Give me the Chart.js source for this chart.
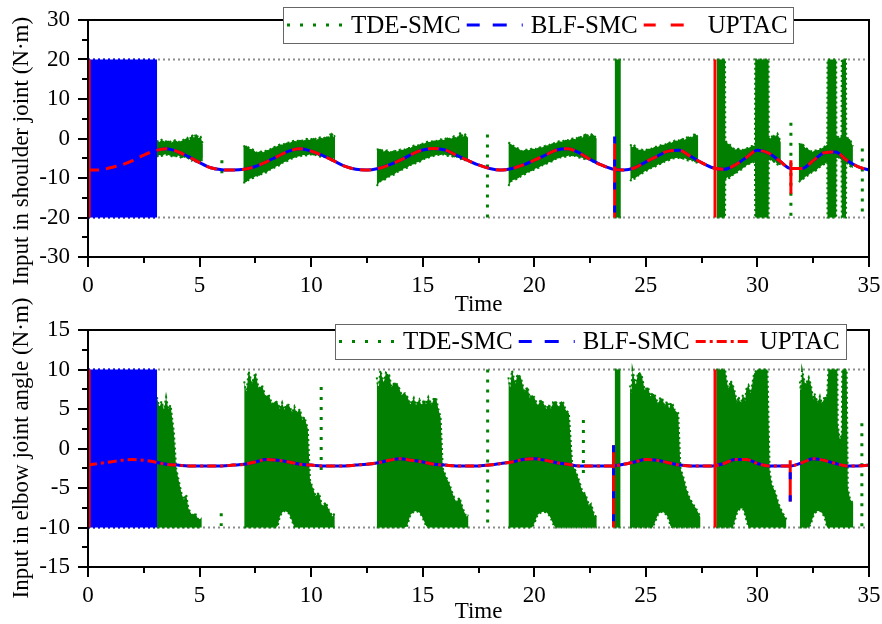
<!DOCTYPE html>
<html>
<head>
<meta charset="utf-8">
<script src="https://cdn.jsdelivr.net/npm/chart.js@4.4.0/dist/chart.umd.min.js"></script>
<style>
  html, body { margin: 0; padding: 0; background: #fff; }
  #wrap { position: relative; width: 882px; height: 624px; overflow: hidden; }
  canvas { position: absolute; left: 0; }
  #top { top: 0; }
  #bottom { top: 290px; }
</style>
</head>
<body>
<div id="wrap">
  <canvas id="top" width="882" height="320"></canvas>
  <canvas id="bottom" width="882" height="334"></canvas>
</div>
<script>
// datos

const seriesNames = ['TDE-SMC', 'BLF-SMC', 'UPTAC']

const curveTime = [
  0, 0.5, 1, 1.5, 2, 2.5, 3, 3.5, 4, 4.5,
  5, 5.5, 6, 6.5, 7, 7.5, 8, 8.5, 9, 9.5,
  10, 10.5, 11, 11.5, 12, 12.5, 13, 13.5, 14, 14.5,
  15, 15.5, 16, 16.5, 17, 17.5, 18, 18.5, 19, 19.5,
  20, 20.5, 21, 21.5, 22, 22.5, 23, 23.5, 24, 24.5,
  25, 25.5, 26, 26.5, 27, 27.5, 28, 28.5, 29, 29.5,
  30, 30.5, 31, 31.5, 32, 32.5, 33, 33.5, 34, 34.5,
  35
]

// hombro (panel de arriba)
const shoulderUptac = [
  -8.0, -8.0, -7.4, -6.7, -5.6, -4.2, -3.1, -2.6, -3.3, -4.6,
  -6.1, -7.4, -7.9, -8.0, -7.8, -7.1, -5.9, -4.5, -3.2, -2.6,
  -3.2, -4.3, -5.6, -7.0, -7.8, -8.0, -7.6, -6.7, -5.5, -4.0,
  -2.9, -2.5, -2.9, -4.2, -5.5, -6.7, -7.6, -8.0, -7.6, -6.7,
  -5.5, -4.2, -2.9, -2.6, -3.6, -5.3, -6.7, -7.7, -8.0, -7.4,
  -5.9, -4.5, -3.2, -3.0, -4.5, -6.1, -7.4, -7.8, -6.7, -4.8,
  -3.0, -3.7, -5.7, -7.6, -7.6, -5.6, -3.6, -3.4, -5.5, -7.1,
  -8.0
]
// BLF-SMC va pegada a UPTAC (misma curva en la figura)
const shoulderBlf = shoulderUptac

// picos verticales: [tiempo, desde, hasta]
const shoulderUptacSpikes = [[0.05, 20, -20], [23.6, -1.2, -20], [28.1, 20, -20], [31.5, -5.5, -14]]
const shoulderBlfSpikes = [[23.6, 0.5, -20]]
const shoulderTdeSpikes = [[6.0, -5.5, -9.6], [17.9, 1, -20], [31.5, 4, -20], [34.7, -2.5, -19.5]]
// castaneo de BLF-SMC al inicio: [tiempo, bajo, alto]
const shoulderBlfBlock = [[0, -20, 20], [3.1, -20, 20]]
const shoulderLimits = [20, -20]

// bandas de ruido de TDE-SMC: [tiempo, bajo, alto]
const shoulderTdeBands = [
  [[3.08, -4.6, -0.6], [3.2, -4.2, -0.9], [3.3, -4.4, -0.3], [3.45, -4.0, -0.8], [3.6, -4.2, -0.5], [3.75, -4.5, -1.0], [3.9, -4.6, -0.4], [4.05, -4.3, -0.9], [4.2, -5.0, -0.6], [4.35, -4.6, -0.1], [4.45, -5.2, 0.2], [4.55, -4.9, -0.4], [4.65, -5.6, 1.0], [4.75, -5.2, 0.2], [4.85, -6.2, 1.2], [4.95, -5.6, 0.1], [5.05, -6.0, 0.4], [5.15, -5.0, -1.5]],
  [[6.96, -11.2, -2.0], [7.1, -11.0, -1.8], [7.25, -10.2, -2.6], [7.4, -10.0, -2.8], [7.55, -9.4, -3.6], [7.7, -9.4, -3.2], [7.85, -8.6, -3.5], [8.0, -8.6, -3.0], [8.15, -7.9, -2.8], [8.3, -7.6, -2.2], [8.45, -7.0, -2.0], [8.6, -6.8, -1.5], [8.75, -6.0, -1.5], [8.9, -5.8, -1.0], [9.05, -5.2, -1.1], [9.2, -5.0, -0.6], [9.35, -4.6, -0.7], [9.5, -4.5, -0.3], [9.65, -4.2, -0.6], [9.8, -4.3, -0.1], [9.95, -4.0, -0.4], [10.1, -4.3, 0.2], [10.25, -4.1, -0.3], [10.4, -4.6, 0.3], [10.55, -4.4, 0.0], [10.7, -5.2, 0.6], [10.8, -4.8, 0.1], [10.9, -5.5, 1.6], [11.0, -5.0, 0.3], [11.07, -6.0, 0.8]],
  [[12.94, -12.0, -2.8], [13.1, -10.8, -2.6], [13.25, -10.6, -3.3], [13.4, -10.0, -3.0], [13.55, -9.4, -3.5], [13.7, -9.2, -3.0], [13.85, -8.5, -3.3], [14.0, -8.2, -2.8], [14.15, -7.6, -2.9], [14.3, -7.4, -2.4], [14.45, -6.7, -2.4], [14.6, -6.5, -1.8], [14.75, -6.0, -1.9], [14.9, -5.8, -1.3], [15.05, -5.2, -1.3], [15.2, -5.0, -0.8], [15.35, -4.6, -0.9], [15.5, -4.4, -0.5], [15.65, -4.1, -0.6], [15.8, -4.2, -0.2], [15.95, -4.0, -0.4], [16.1, -4.4, 0.3], [16.25, -4.2, -0.2], [16.4, -4.8, 0.6], [16.55, -4.6, 0.1], [16.7, -5.2, 1.6], [16.8, -4.9, 0.4], [16.9, -5.5, 1.0], [17.03, -5.6, 0.2]],
  [[18.84, -12.0, -1.0], [19.0, -10.6, -1.6], [19.15, -10.4, -2.2], [19.3, -10.0, -2.6], [19.45, -9.3, -3.2], [19.6, -9.0, -2.8], [19.75, -8.4, -3.0], [19.9, -8.2, -2.5], [20.05, -7.6, -2.7], [20.2, -7.4, -2.2], [20.35, -6.8, -2.3], [20.5, -6.6, -1.8], [20.65, -6.0, -1.7], [20.8, -5.8, -1.2], [20.95, -5.2, -1.2], [21.1, -5.0, -0.7], [21.25, -4.6, -0.8], [21.4, -4.6, -0.3], [21.55, -4.3, -0.5], [21.7, -4.5, 0.0], [21.85, -4.4, -0.2], [22.0, -4.8, 0.6], [22.15, -4.9, 0.2], [22.3, -5.4, 1.3], [22.45, -5.2, 0.5], [22.6, -5.8, 1.2], [22.8, -6.0, 0.0]],
  [[23.6, -20, 20], [23.88, -20, 20]],
  [[24.3, -10.8, -1.5], [24.4, -10.0, -2.2], [24.5, -10.2, -1.8], [24.65, -9.4, -2.9], [24.8, -9.0, -2.8], [24.95, -8.3, -3.1], [25.1, -8.0, -2.6], [25.25, -7.4, -2.6], [25.4, -7.2, -2.1], [25.55, -6.6, -2.1], [25.7, -6.4, -1.6], [25.85, -5.8, -1.6], [26.0, -5.6, -1.0], [26.15, -5.1, -1.1], [26.3, -5.0, -0.5], [26.45, -4.9, -0.6], [26.6, -5.2, 0.0], [26.75, -5.0, -0.3], [26.9, -5.6, 0.6], [27.05, -5.4, 0.1], [27.2, -6.0, 1.3], [27.35, -6.2, 0.2]],
  [[28.18, -20, 20], [28.55, -20, 20], [28.56, -10.5, -0.5], [28.65, -9.8, -1.2], [28.75, -10.0, -1.5], [28.9, -9.2, -2.4], [29.0, -9.0, -2.8], [29.15, -8.2, -2.6], [29.3, -7.8, -3.0], [29.45, -7.0, -2.5], [29.6, -6.5, -2.4], [29.75, -6.2, -1.9], [29.89, -5.8, -1.8], [29.9, -20, 20], [30.5, -20, 20], [30.51, -5.5, 0.3], [30.6, -5.3, 0.0], [30.7, -6.0, 1.0], [30.8, -5.8, 0.4], [30.9, -6.6, 1.2], [31.05, -6.8, -1.0]],
  [[31.85, -11.0, -1.5], [32.0, -10.5, -1.2], [32.15, -9.7, -2.4], [32.3, -9.2, -2.8], [32.45, -8.5, -3.4], [32.6, -8.2, -3.0], [32.75, -7.4, -2.9], [32.9, -6.8, -2.4], [33.02, -6.4, -2.0], [33.13, -6.0, -1.5], [33.14, -20, 20], [33.53, -20, 20], [33.54, -5.0, 0.8], [33.65, -4.8, 0.2], [33.77, -5.5, 0.4], [33.78, -20, 20], [33.97, -20, 20], [33.98, -6.5, 0.6], [34.06, -6.2, 0.0], [34.15, -7.0, -0.2], [34.28, -7.5, -2.0]]
]

// codo (panel de abajo)
const elbowUptac = [
  -2.1, -1.9, -1.7, -1.5, -1.4, -1.5, -1.7, -2.0, -2.1, -2.2,
  -2.2, -2.2, -2.2, -2.1, -2.0, -1.7, -1.4, -1.5, -1.7, -2.0,
  -2.1, -2.2, -2.2, -2.2, -2.1, -2.0, -1.8, -1.5, -1.3, -1.5,
  -1.7, -2.0, -2.1, -2.2, -2.2, -2.2, -2.1, -1.9, -1.7, -1.4,
  -1.3, -1.5, -1.8, -2.0, -2.2, -2.2, -2.2, -2.2, -2.0, -1.7,
  -1.4, -1.5, -1.8, -2.1, -2.2, -2.2, -2.2, -1.9, -1.4, -1.4,
  -1.9, -2.2, -2.2, -2.2, -1.8, -1.3, -1.5, -1.9, -2.2, -2.2,
  -2.1
]
const elbowBlf = elbowUptac

const elbowUptacSpikes = [[0.05, 10, -10], [23.55, 0.4, -10], [28.1, 10, -10], [31.47, -1.5, -6.7]]
const elbowBlfSpikes = [[23.55, 0.4, -10], [31.47, -3, -6.7]]
const elbowTdeSpikes = [[5.97, -8.2, -9.8], [10.45, 7.8, -3.6], [17.91, 10, -10], [22.2, 3.6, -3.4], [34.68, 3.2, -9.9]]
const elbowBlfBlock = [[0, -10, 10], [3.1, -10, 10]]
const elbowLimits = [10, -10]

const elbowTdeBands = [
  [[3.09, -10, 6.5], [3.2, -10, 5.2], [3.3, -10, 6.0], [3.4, -10, 4.8], [3.5, -10, 6.5], [3.6, -10, 5.0], [3.7, -10, 5.5], [3.85, -10, 2.0], [3.95, -10, -2.5], [4.1, -10, -4.5], [4.2, -10, -5.8], [4.3, -10, -6.5], [4.4, -10, -5.8], [4.5, -10, -7.6], [4.65, -10, -8.4], [4.8, -10, -8.2], [4.95, -10, -9.0], [5.1, -10, -8.8]],
  [[7.0, -10, 8.5], [7.1, -10, 7.0], [7.2, -10, 9.8], [7.35, -10, 8.2], [7.5, -10, 9.6], [7.65, -10, 7.6], [7.8, -10, 8.0], [7.95, -10, 6.6], [8.1, -10, 6.8], [8.25, -10, 5.6], [8.4, -10, 6.0], [8.5, -9.8, 5.8], [8.6, -8.6, 5.0], [8.7, -8.1, 5.8], [8.8, -7.9, 4.9], [8.9, -8.0, 5.6], [9.0, -8.2, 5.5], [9.15, -9.2, 4.6], [9.25, -10, 5.3], [9.35, -10, 4.5], [9.5, -10, 5.0], [9.6, -10, 3.6], [9.7, -10, 4.0], [9.85, -10, 2.5], [9.95, -10, -4.0], [10.1, -10, -5.2], [10.2, -10, -6.0], [10.35, -10, -5.6], [10.5, -10, -7.4], [10.65, -10, -6.8], [10.8, -10, -7.8], [10.95, -10, -8.6], [11.06, -10, -8.2]],
  [[12.94, -10, 9.0], [13.02, -10, 7.4], [13.1, -10, 9.9], [13.25, -10, 8.3], [13.35, -10, 9.6], [13.5, -10, 9.3], [13.6, -10, 7.8], [13.75, -10, 8.4], [13.9, -10, 8.0], [14.05, -10, 6.8], [14.2, -10, 7.0], [14.3, -9.8, 6.6], [14.45, -8.4, 5.6], [14.6, -8.0, 6.4], [14.7, -7.9, 5.5], [14.85, -8.1, 6.2], [14.95, -8.5, 5.4], [15.05, -9.1, 6.2], [15.15, -9.8, 5.6], [15.25, -10, 6.5], [15.4, -10, 5.5], [15.5, -10, 6.4], [15.6, -10, 6.4], [15.7, -10, 5.0], [15.8, -10, 4.0], [15.9, -10, -2.5], [16.05, -10, -3.6], [16.2, -10, -4.5], [16.35, -10, -5.8], [16.5, -10, -6.8], [16.65, -10, -6.2], [16.8, -10, -7.6], [16.95, -10, -8.6], [17.05, -10, -8.4]],
  [[18.84, -10, 9.0], [18.92, -10, 7.6], [19.0, -10, 9.9], [19.15, -10, 8.2], [19.25, -10, 9.4], [19.4, -10, 9.0], [19.55, -10, 7.2], [19.7, -10, 7.8], [19.8, -10, 6.4], [19.9, -10, 6.8], [20.0, -9.5, 6.5], [20.15, -8.4, 5.4], [20.3, -8.1, 6.2], [20.4, -8.0, 5.8], [20.55, -8.1, 5.0], [20.65, -8.4, 5.6], [20.75, -8.9, 5.0], [20.85, -9.6, 5.9], [20.95, -10, 6.0], [21.1, -10, 5.2], [21.2, -10, 6.0], [21.3, -10, 5.8], [21.4, -10, 4.9], [21.55, -10, 4.5], [21.7, -10, -2.0], [21.85, -10, -2.8], [22.0, -10, -4.0], [22.15, -10, -5.4], [22.3, -10, -5.8], [22.45, -10, -7.2], [22.55, -10, -7.0], [22.7, -10, -8.6], [22.8, -10, -8.5]],
  [[23.6, -10, 10], [23.87, -10, 10]],
  [[24.29, -10, 8.0], [24.35, -10, 7.0], [24.4, -10, 9.9], [24.55, -10, 8.0], [24.65, -10, 9.6], [24.8, -10, 9.4], [24.95, -10, 7.4], [25.1, -10, 7.8], [25.2, -10, 6.6], [25.3, -10, 7.0], [25.4, -9.4, 6.8], [25.55, -8.3, 5.6], [25.65, -8.1, 6.5], [25.75, -8.0, 6.2], [25.85, -8.2, 5.4], [25.95, -8.5, 6.0], [26.05, -9.2, 5.0], [26.1, -9.8, 5.8], [26.2, -10, 5.6], [26.3, -10, 4.8], [26.45, -10, 4.5], [26.55, -10, -2.5], [26.7, -10, -3.8], [26.8, -10, -5.0], [26.95, -10, -6.2], [27.1, -10, -7.0], [27.25, -10, -7.6], [27.45, -10, -8.7]],
  [[28.15, -10, 10], [28.55, -10, 10], [28.6, -10, 9.0], [28.7, -10, 7.4], [28.8, -10, 8.6], [28.9, -10, 8.0], [29.0, -9.0, 7.0], [29.08, -8.2, 5.8], [29.15, -7.8, 6.6], [29.25, -7.6, 5.6], [29.35, -7.6, 6.8], [29.45, -8.4, 6.0], [29.5, -9.0, 7.5], [29.6, -10, 8.0], [29.7, -10, 7.0], [29.85, -10, 9.5], [30.0, -10, 10], [30.45, -10, 10], [30.55, -10, -3.0], [30.65, -10, -4.6], [30.8, -10, -5.5], [30.95, -10, -7.0], [31.1, -10, -8.0], [31.3, -10, -9.0]],
  [[31.9, -10, 8.5], [31.95, -10, 7.2], [32.0, -10, 9.9], [32.15, -10, 8.0], [32.3, -10, 9.0], [32.4, -9.5, 8.0], [32.5, -8.6, 6.2], [32.55, -8.2, 7.0], [32.7, -7.9, 5.8], [32.8, -7.9, 6.6], [32.9, -8.2, 5.6], [33.0, -8.6, 6.5], [33.12, -10, 6.6], [33.18, -10, 10], [33.58, -10, 10], [33.6, -10, 3.0], [33.7, -10, 1.0], [33.78, -10, 2.0], [33.8, -10, 10], [34.0, -10, 10], [34.05, -10, -5.0], [34.15, -10, -6.4], [34.3, -10, -7.0]]
]

// colores
const verde = '#007f00'
const azul = '#0000ff'
const rojo = '#ff0000'

Chart.defaults.font.family = "'Liberation Serif', 'Times New Roman', serif"
Chart.defaults.font.size = 23
Chart.defaults.color = '#000'

function puntos(tiempos, valores) {
  return tiempos.map((t, i) => ({ x: t, y: valores[i] }))
}

function picos(lista) {
  const pts = []
  lista.forEach(p => {
    pts.push({ x: p[0], y: p[1] }, { x: p[0], y: p[2] }, { x: p[0], y: null })
  })
  return pts
}

function bandas(segmentos, color, orden) {
  const sets = []
  segmentos.forEach(seg => {
    sets.push({
      data: seg.map(p => ({ x: p[0], y: p[2] })),
      borderColor: color, borderWidth: 2, borderDash: [2, 3],
      pointRadius: 0, fill: false, order: orden
    })
    sets.push({
      data: seg.map(p => ({ x: p[0], y: p[1] })),
      borderColor: color, borderWidth: 2, borderDash: [2, 3],
      pointRadius: 0, fill: '-1', backgroundColor: color, order: orden
    })
  })
  return sets
}

// marco, ticks, titulos y leyenda con recuadro
const decoracion = {
  id: 'decoracion',
  afterDraw(chart, args, opts) {
    const { ctx, chartArea: a, scales } = chart
    const x = scales.x, y = scales.y
    ctx.save()
    ctx.setLineDash([])
    ctx.strokeStyle = '#000'
    ctx.lineWidth = 2
    ctx.strokeRect(a.left, a.top, a.right - a.left, a.bottom - a.top)

    ctx.beginPath()
    for (let v = y.min; v <= y.max + 1e-9; v += opts.yStep / 2) {
      const py = Math.round(y.getPixelForValue(v))
      const mayor = Math.abs(v / opts.yStep - Math.round(v / opts.yStep)) < 1e-6
      ctx.moveTo(a.left - (mayor ? 10 : 6), py)
      ctx.lineTo(a.left, py)
    }
    for (let v = x.min; v <= x.max + 1e-9; v += 2.5) {
      const px = Math.round(x.getPixelForValue(v))
      const mayor = Math.abs(v / 5 - Math.round(v / 5)) < 1e-6
      ctx.moveTo(px, a.bottom)
      ctx.lineTo(px, a.bottom + (mayor ? 10 : 6))
    }
    ctx.stroke()

    ctx.fillStyle = '#000'
    ctx.font = "23px 'Liberation Serif'"
    ctx.textAlign = 'center'
    ctx.textBaseline = 'middle'
    ctx.fillText('Time', (a.left + a.right) / 2, opts.timeY)
    ctx.save()
    ctx.translate(opts.titleX, opts.titleY)
    ctx.rotate(-Math.PI / 2)
    ctx.fillText(opts.yTitle, 0, 0)
    ctx.restore()

    const lg = opts.legend
    ctx.fillStyle = '#fff'
    ctx.fillRect(lg.x, lg.y, lg.w, lg.h)
    ctx.strokeStyle = '#666'
    ctx.lineWidth = 1
    ctx.strokeRect(lg.x + 0.5, lg.y + 0.5, lg.w, lg.h)
    const items = [
      { name: seriesNames[0], color: verde, dash: [3, 10] },
      { name: seriesNames[1], color: azul, dash: [13, 13, 14, 15, 3, 60] },
      { name: seriesNames[2], color: rojo, dash: opts.redLegendDash }
    ]
    ctx.font = "25px 'Liberation Serif'"
    ctx.textAlign = 'left'
    let cx = lg.x + 4
    const cy = lg.y + lg.h / 2
    items.forEach(it => {
      ctx.setLineDash(it.dash)
      ctx.lineWidth = 3
      ctx.strokeStyle = it.color
      ctx.beginPath()
      ctx.moveTo(cx, cy)
      ctx.lineTo(cx + 56, cy)
      ctx.stroke()
      ctx.setLineDash([])
      ctx.fillStyle = '#000'
      ctx.fillText(it.name, cx + 64, cy + 1)
      cx += 64 + ctx.measureText(it.name).width + 6
    })
    ctx.restore()
  }
}

function crearGrafico(id, p) {
  const datasets = [
    // curvas
    { data: puntos(curveTime, p.uptac), borderColor: rojo, borderWidth: 3, borderDash: p.redDash,
      pointRadius: 0, cubicInterpolationMode: 'monotone', fill: false, order: 1 },
    { data: picos(p.blfSpikes), borderColor: azul, borderWidth: 3, borderDash: [7, 16],
      pointRadius: 0, fill: false, order: 0 },
    { data: picos(p.uptacSpikes), borderColor: rojo, borderWidth: 3,
      pointRadius: 0, fill: false, order: 1 },
    { data: puntos(curveTime, p.blf), borderColor: azul, borderWidth: 3,
      pointRadius: 0, cubicInterpolationMode: 'monotone', fill: false, order: 2 },
    { data: picos(p.tdeSpikes), borderColor: verde, borderWidth: 3, borderDash: [3, 7],
      pointRadius: 0, fill: false, order: 5 },
    // limites de saturacion
    { data: [{ x: 0, y: p.limits[0] }, { x: 35, y: p.limits[0] }], borderColor: '#8c8c8c', borderWidth: 2,
      borderDash: [2, 3], pointRadius: 0, fill: false, order: 10 },
    { data: [{ x: 0, y: p.limits[1] }, { x: 35, y: p.limits[1] }], borderColor: '#8c8c8c', borderWidth: 2,
      borderDash: [2, 3], pointRadius: 0, fill: false, order: 10 }
  ].concat(bandas([p.blfBlock], azul, 4))
   .concat(bandas(p.tdeBands, verde, 6))

  return new Chart(document.getElementById(id), {
    type: 'line',
    data: { datasets: datasets },
    options: {
      responsive: false,
      animation: false,
      layout: { padding: { top: p.top, right: 13, left: 0, bottom: 0 } },
      plugins: {
        legend: { display: false },
        tooltip: { enabled: false },
        decoracion: p.decor
      },
      scales: {
        x: {
          type: 'linear', min: 0, max: 35,
          grid: { display: false }, border: { display: false },
          ticks: { stepSize: 5, padding: 7, maxRotation: 0 },
          afterFit: s => { s.height = p.xAxisHeight; s.paddingLeft = 0; s.paddingRight = 0 }
        },
        y: {
          min: p.yMin, max: p.yMax,
          grid: { display: false }, border: { display: false },
          ticks: { stepSize: p.yStep, padding: 10 },
          afterFit: s => { s.width = 88; s.paddingTop = 0; s.paddingBottom = 0 }
        }
      }
    },
    plugins: [decoracion]
  })
}

crearGrafico('top', {
  uptac: shoulderUptac, blf: shoulderBlf,
  uptacSpikes: shoulderUptacSpikes, blfSpikes: shoulderBlfSpikes, tdeSpikes: shoulderTdeSpikes,
  blfBlock: shoulderBlfBlock, tdeBands: shoulderTdeBands, limits: shoulderLimits,
  redDash: [11, 7],
  yMin: -30, yMax: 30, yStep: 10,
  top: 20, xAxisHeight: 63,
  decor: {
    yStep: 10, timeY: 305, titleX: 22, titleY: 151,
    yTitle: 'Input in shoulder joint (N·m)',
    redLegendDash: [12, 15, 13, 16, 3, 60],
    legend: { x: 283, y: 7, w: 510, h: 36 }
  }
})

crearGrafico('bottom', {
  uptac: elbowUptac, blf: elbowBlf,
  uptacSpikes: elbowUptacSpikes, blfSpikes: elbowBlfSpikes, tdeSpikes: elbowTdeSpikes,
  blfBlock: elbowBlfBlock, tdeBands: elbowTdeBands, limits: elbowLimits,
  redDash: [9, 4, 3, 4],
  yMin: -15, yMax: 15, yStep: 5,
  top: 40, xAxisHeight: 57,
  decor: {
    yStep: 5, timeY: 322, titleX: 22, titleY: 158,
    yTitle: 'Input in elbow joint angle (N·m)',
    redLegendDash: [10, 4, 3, 4],
    legend: { x: 335, y: 34, w: 511, h: 35 }
  }
})
</script>
</body>
</html>
